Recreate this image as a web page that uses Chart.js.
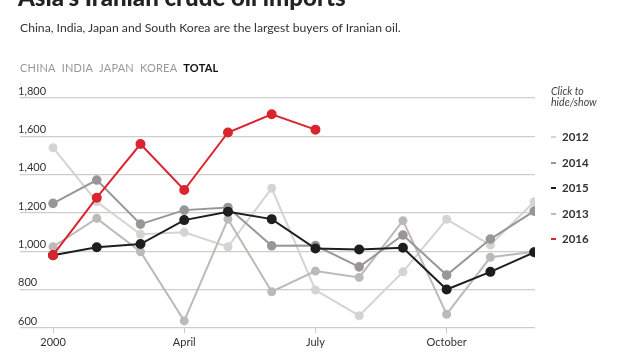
<!DOCTYPE html>
<html><head><meta charset="utf-8">
<script src="https://cdn.jsdelivr.net/npm/chart.js@4"></script>
<style>
html,body{margin:0;padding:0;background:#fff;width:620px;height:355px;overflow:hidden;font-family:Lato,"Open Sans",sans-serif;}
#wrap{position:absolute;left:0;top:0;width:620px;height:355px;}
canvas{position:absolute;left:0;top:0;}
.t{position:absolute;white-space:nowrap;}
#title{left:18px;top:-18px;font-size:24px;font-weight:900;color:#222;}
#sub{left:20px;top:20px;font-size:12.2px;color:#333;}
#tabs{left:20px;top:61px;font-size:11px;color:#999;letter-spacing:0.2px;}
#tabs span{margin-right:6px;}
#tabs b{color:#111;}
#click{left:551px;top:86px;font-size:10.6px;font-style:italic;color:#444;line-height:10.5px;}
.lg{position:absolute;left:551px;font-size:11.5px;font-weight:bold;color:#333;}
.lg i{display:inline-block;width:5px;height:2px;margin-right:6px;vertical-align:middle;position:relative;top:-1px;}
</style></head>
<body><div id="wrap">
<canvas id="c" width="620" height="355"></canvas>
<div class="t" id="title">Asia's Iranian crude oil imports</div>
<div class="t" id="sub">China, India, Japan and South Korea are the largest buyers of Iranian oil.</div>
<div class="t" id="tabs"><span>CHINA</span><span>INDIA</span><span>JAPAN</span><span>KOREA</span><b>TOTAL</b></div>
<div class="t" id="click">Click to<br>hide/show</div>
<div id="legend"></div>
</div>
<script>
const months = ["2000","Feb","Mar","April","May","Jun","July","Aug","Sep","October","Nov","Dec"];
const tickIdx = [0,3,6,9];
const yTicks = [600,800,1000,1200,1400,1600,1800];
const s2012 = [1541,1259,1089,1099,1024,1329,798,664,893,1167,1033,1259];
const s2013 = [1024,1172,998,637,1168,789,897,864,1160,672,969,998];
const s2014 = [1250,1372,1142,1215,1229,1029,1030,919,1085,876,1064,1210];
const s2015 = [980,1021,1038,1163,1207,1168,1015,1010,1019,801,893,995];
const s2016 = [980,1280,1560,1320,1620,1715,1635];
const legendOrder = ["2012","2014","2015","2013","2016"];

const series = {
  "2012":{data:s2012,color:"#d6d4d3",order:4,r:3.5},
  "2013":{data:s2013,color:"#bcbab9",order:3,r:3.5},
  "2014":{data:s2014,color:"#9a9695",order:2,r:3.8},
  "2015":{data:s2015,color:"#1e1e1e",order:1,r:4},
  "2016":{data:s2016,color:"#d9252f",order:0,r:4}
};
const datasets = Object.keys(series).map(k=>{
  const s=series[k];
  return {label:k,data:s.data.map((v,i)=>({x:i,y:v})),borderColor:s.color,backgroundColor:s.color,
    pointBackgroundColor:s.color,pointBorderColor:s.color,borderWidth:2,pointRadius:s.r,pointHoverRadius:s.r,
    order:s.order,tension:0};
});

const lg=document.getElementById('legend');
const lgY={"2012":130,"2014":156,"2015":181,"2013":207,"2016":232};
legendOrder.forEach(k=>{
  const d=document.createElement('div');d.className='lg';d.style.top=lgY[k]+'px';
  d.innerHTML='<i style="background:'+series[k].color+'"></i>'+k;lg.appendChild(d);
});

new Chart(document.getElementById('c'),{
  type:'line',
  data:{datasets},
  options:{
    responsive:false,animation:false,
    layout:{padding:{left:20,right:85,top:98,bottom:0}},
    plugins:{legend:{display:false},tooltip:{enabled:false}},
    scales:{
      x:{type:'linear',min:-0.755,max:11.02,
        afterBuildTicks:s=>{s.ticks=tickIdx.map(v=>({value:v}));},
        afterFit:s=>{s.height=27;},
        grid:{display:true,drawOnChartArea:false,drawTicks:true,tickLength:5,color:'#c8c8c8'},
        border:{display:false},
        ticks:{callback:v=>months[v],color:'#333',font:{family:'Lato',size:11},padding:3,maxRotation:0,autoSkip:false}
      },
      y:{min:600,max:1800,
        afterBuildTicks:s=>{s.ticks=yTicks.map(v=>({value:v}));},
        afterFit:s=>{s.width=0;},
        grid:{color:'#cfcdcc',lineWidth:1.2,drawTicks:false},
        border:{display:false},
        ticks:{mirror:true,padding:-2,labelOffset:-7,color:'#333',font:{family:'Lato',size:11},
          callback:v=>v.toLocaleString('en-US')}
      }
    }
  }
});
</script>
</body></html>
